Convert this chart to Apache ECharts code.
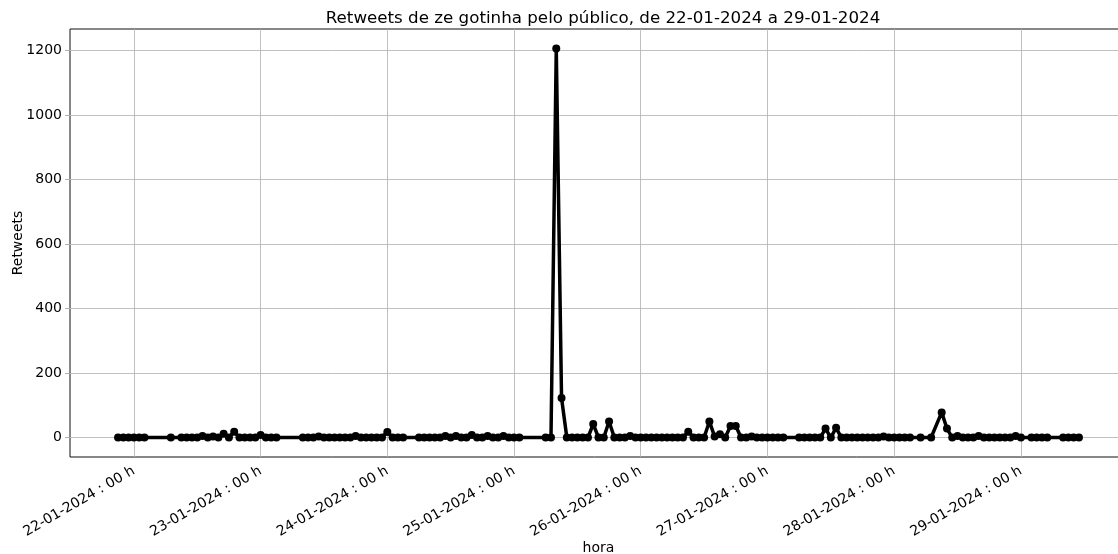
<!DOCTYPE html>
<html>
<head>
<meta charset="utf-8">
<script src="https://cdn.jsdelivr.net/npm/echarts@6/dist/echarts.min.js"></script>
<style>
  html, body { margin: 0; padding: 0; background: #fff; }
  #chart { width: 1118px; height: 554px; }
</style>
</head>
<body>
<div id="chart"></div>
<script>
// retweets por hora (índice = hora do dia), null = hora sem dados
const n = null;
const jan21 = [n,n,n,n,n,n,n,n,n,n,n,n,n,n,n,n,n,n,n,n,n,0,0,0];
const jan22 = [0,0,0,n,n,n,n,0,n,0,0,0,0,5,0,3,0,12,0,18,0,0,0,0];
const jan23 = [8,0,0,0,n,n,n,n,0,0,0,3,0,0,0,0,0,0,5,0,0,0,0,0];
const jan24 = [17,0,0,0,n,n,0,0,0,0,0,5,0,5,0,0,8,0,0,5,0,0,5,0];
const jan25 = [0,0,n,n,n,n,0,0,1207,123,0,0,0,0,0,42,0,0,50,0,0,0,5,0];
const jan26 = [0,0,0,0,0,0,0,0,0,18,0,0,0,50,3,10,0,36,36,0,0,3,0,0];
const jan27 = [0,0,0,0,n,n,0,0,0,0,0,28,0,30,0,0,0,0,0,0,0,0,3,0];
const jan28 = [0,0,0,0,n,0,n,0,n,78,28,0,5,0,0,0,5,0,0,0,0,0,0,5];
const jan29 = [0,n,0,0,0,0,n,n,0,0,0,0,n,n,n,n,n,n,n,n,n,n,n,n];

const dias = [21, 22, 23, 24, 25, 26, 27, 28, 29];
const valoresPorDia = [jan21, jan22, jan23, jan24, jan25, jan26, jan27, jan28, jan29];

const xTickDias = [22, 23, 24, 25, 26, 27, 28, 29];
const yTicks = [0, 200, 400, 600, 800, 1000, 1200];

// pontos [timestamp, retweets]; as horas sem dados ficam de fora e a linha liga os vizinhos
const data = [];
dias.forEach((d, i) => {
  valoresPorDia[i].forEach((v, h) => {
    if (v !== null) data.push([new Date(2024, 0, d, h).getTime(), v]);
  });
});

const pad = (x) => String(x).padStart(2, '0');
const fmtHora = (val) => {
  const dt = new Date(val);
  return pad(dt.getDate()) + '-' + pad(dt.getMonth() + 1) + '-' + dt.getFullYear() +
    ' : ' + pad(dt.getHours()) + ' h';
};

const xTicks = xTickDias.map(d => new Date(2024, 0, d, 0).getTime());
const font = 'DejaVu Sans';
const gridColor = '#b0b0b0';

const chart = echarts.init(document.getElementById('chart'), null, { renderer: 'canvas' });

chart.setOption({
  animation: false,
  backgroundColor: '#fff',
  title: {
    text: 'Retweets de ze gotinha pelo público, de 22-01-2024 a 29-01-2024',
    left: 598,
    textAlign: 'center',
    top: 5,
    textStyle: { fontFamily: font, fontSize: 16.7, fontWeight: 'normal', color: '#000' }
  },
  grid: {
    left: 70,
    top: 29,
    width: 1057,
    height: 428,
    show: true,
    borderColor: '#111',
    borderWidth: 1,
    backgroundColor: 'transparent',
    containLabel: false,
    outerBoundsMode: 'none'
  },
  xAxis: {
    type: 'value',
    min: new Date(2024, 0, 21, 11, 54).getTime(),
    max: new Date(2024, 0, 29, 20, 6).getTime(),
    name: 'hora',
    nameLocation: 'middle',
    nameGap: 84,
    nameMoveOverlap: false,
    nameTextStyle: { fontFamily: font, fontSize: 14, color: '#000' },
    axisLine: { show: false },
    axisTick: { show: true, inside: false, length: 5, customValues: xTicks, lineStyle: { color: gridColor } },
    axisLabel: {
      customValues: xTicks,
      rotate: 30,
      margin: 13,
      formatter: fmtHora,
      fontFamily: font,
      fontSize: 14,
      color: '#000',
      hideOverlap: false
    },
    splitLine: { show: true, lineStyle: { color: gridColor, width: 0.8 } }
  },
  yAxis: {
    type: 'value',
    min: -60.35,
    max: 1267.35,
    name: 'Retweets',
    nameLocation: 'middle',
    nameGap: 45,
    nameMoveOverlap: false,
    nameTextStyle: { fontFamily: font, fontSize: 14, color: '#000' },
    axisLine: { show: false },
    axisTick: { show: true, inside: false, length: 5, customValues: yTicks, lineStyle: { color: gridColor } },
    axisLabel: {
      customValues: yTicks,
      margin: 8,
      formatter: (v) => String(v),
      fontFamily: font,
      fontSize: 14,
      color: '#000'
    },
    splitLine: { show: true, lineStyle: { color: gridColor, width: 0.8 } }
  },
  series: [{
    type: 'line',
    data: data,
    symbol: 'circle',
    symbolSize: 8,
    showAllSymbol: true,
    itemStyle: { color: '#000' },
    lineStyle: { color: '#000', width: 3.5 },
    emphasis: { disabled: true }
  }]
});
</script>
</body>
</html>
